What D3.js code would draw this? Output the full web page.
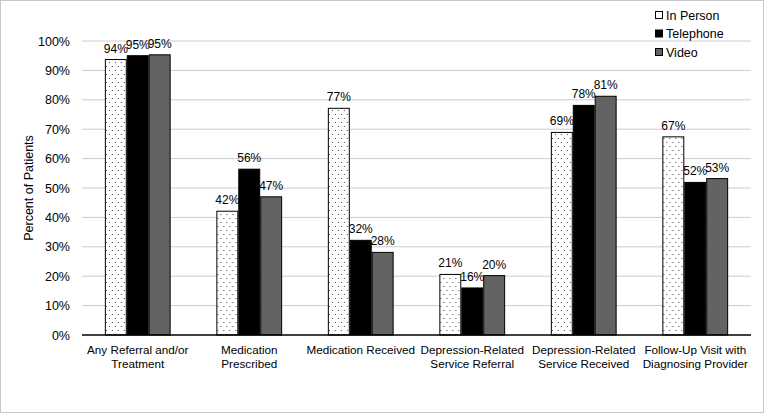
<!DOCTYPE html>
<html>
<head>
<meta charset="utf-8">
<script src="https://cdn.jsdelivr.net/npm/d3@7"></script>
<style>
  body { margin: 0; background: #fff; }
  svg { font-family: "Liberation Sans", Arial, sans-serif; }
</style>
</head>
<body>
<div id="chart"></div>
<script>
// data
var categories = [
  ["Any Referral and/or", "Treatment"],
  ["Medication", "Prescribed"],
  ["Medication Received"],
  ["Depression-Related", "Service Referral"],
  ["Depression-Related", "Service Received"],
  ["Follow-Up Visit with", "Diagnosing Provider"]
];
var seriesNames = ["In Person", "Telephone", "Video"];
var inPerson  = [93.7, 42.1, 77.1, 20.6, 68.9, 67.4];
var telephone = [95.0, 56.4, 32.2, 16.0, 78.1, 51.9];
var video     = [95.3, 47.0, 28.1, 20.2, 81.2, 53.2];
var yTicks = [0, 10, 20, 30, 40, 50, 60, 70, 80, 90, 100];

var series = [inPerson, telephone, video];

var W = 765, H = 414;
var margin = {top: 41, right: 14, bottom: 79, left: 82};
var width = W - margin.left - margin.right,
    height = H - margin.top - margin.bottom;

var svg = d3.select("#chart").append("svg")
    .attr("width", W)
    .attr("height", H);

// dotted fill for in person
var defs = svg.append("defs");
var pat = defs.append("pattern")
    .attr("id", "dots")
    .attr("patternUnits", "userSpaceOnUse")
    .attr("width", 6)
    .attr("height", 8);
pat.append("rect").attr("width", 6).attr("height", 8).attr("fill", "#fff");
pat.append("rect").attr("x", 1).attr("y", 1).attr("width", 1).attr("height", 1).attr("fill", "#444");
pat.append("rect").attr("x", 4).attr("y", 5).attr("width", 1).attr("height", 1).attr("fill", "#444");

var fills = ["url(#dots)", "#000000", "#636363"];

// frame
svg.append("rect")
    .attr("x", 0.5).attr("y", 0.5)
    .attr("width", W - 2).attr("height", H - 2)
    .attr("fill", "none")
    .attr("stroke", "#c8c8c8");

var g = svg.append("g")
    .attr("transform", "translate(" + margin.left + "," + margin.top + ")");

var x0 = d3.scaleBand()
    .domain(d3.range(categories.length))
    .range([0, width])
    .paddingInner(0.41)
    .paddingOuter(0.205);

var x1 = d3.scaleBand()
    .domain(d3.range(series.length))
    .range([0, x0.bandwidth()]);

var y = d3.scaleLinear()
    .domain([0, 100])
    .range([height, 0]);

// gridlines
g.append("g")
    .selectAll("line")
    .data(yTicks.slice(1))
    .enter().append("line")
    .attr("x1", 0)
    .attr("x2", width)
    .attr("y1", function(d) { return y(d); })
    .attr("y2", function(d) { return y(d); })
    .attr("stroke", "#cccccc")
    .attr("stroke-width", 1);

// y axis labels
var yAxis = g.append("g")
    .call(d3.axisLeft(y).tickValues(yTicks).tickSize(0).tickPadding(12)
      .tickFormat(function(d) { return d + "%"; }));
yAxis.select(".domain").remove();
yAxis.selectAll("text")
    .attr("font-size", "12.5px")
    .attr("fill", "#000")
    .attr("font-family", "Liberation Sans, Arial, sans-serif");

// bars
var groups = g.selectAll(".grp")
    .data(categories)
    .enter().append("g")
    .attr("class", "grp")
    .attr("transform", function(d, i) { return "translate(" + x0(i) + ",0)"; });

groups.selectAll("rect")
    .data(function(d, i) { return series.map(function(s, j) { return {s: j, v: s[i]}; }); })
    .enter().append("rect")
    .attr("x", function(d) { return x1(d.s) + 0.5; })
    .attr("y", function(d) { return y(d.v); })
    .attr("width", x1.bandwidth() - 1)
    .attr("height", function(d) { return y(0) - y(d.v); })
    .attr("fill", function(d) { return fills[d.s]; })
    .attr("stroke", "#000")
    .attr("stroke-width", 1);

// value labels
groups.selectAll("text.val")
    .data(function(d, i) { return series.map(function(s, j) { return {s: j, v: s[i]}; }); })
    .enter().append("text")
    .attr("class", "val")
    .attr("x", function(d) { return x1(d.s) + x1.bandwidth() / 2; })
    .attr("y", function(d) { return y(d.v) - 7; })
    .attr("text-anchor", "middle")
    .attr("font-size", "12px")
    .text(function(d) { return Math.round(d.v) + "%"; });

// baseline
g.append("line")
    .attr("x1", 0).attr("x2", width)
    .attr("y1", height).attr("y2", height)
    .attr("stroke", "#000")
    .attr("stroke-width", 1.5);

// category labels
var cat = g.append("g").selectAll("text")
    .data(categories)
    .enter().append("text")
    .attr("text-anchor", "middle")
    .attr("font-size", "11.7px")
    .attr("transform", function(d, i) {
      return "translate(" + (x0(i) + x0.bandwidth() / 2) + "," + (height + 19) + ")";
    });
cat.selectAll("tspan")
    .data(function(d) { return d; })
    .enter().append("tspan")
    .attr("x", 0)
    .attr("dy", function(d, i) { return i === 0 ? 0 : 13.5; })
    .text(function(d) { return d; });

// y axis title
svg.append("text")
    .attr("transform", "translate(33,188) rotate(-90)")
    .attr("text-anchor", "middle")
    .attr("font-size", "12.5px")
    .text("Percent of Patients");

// legend
var legend = svg.append("g")
    .attr("transform", "translate(655,10)");
var li = legend.selectAll("g")
    .data(seriesNames)
    .enter().append("g")
    .attr("transform", function(d, i) { return "translate(0," + (i * 18.5) + ")"; });
li.append("rect")
    .attr("x", 0.5).attr("y", 1.5)
    .attr("width", 7).attr("height", 7)
    .attr("fill", function(d, i) { return i === 0 ? "#fff" : fills[i]; })
    .attr("stroke", "#000")
    .attr("stroke-width", 1);
li.append("text")
    .attr("x", 11)
    .attr("y", 9.5)
    .attr("font-size", "12.5px")
    .text(function(d) { return d; });
</script>
</body>
</html>
